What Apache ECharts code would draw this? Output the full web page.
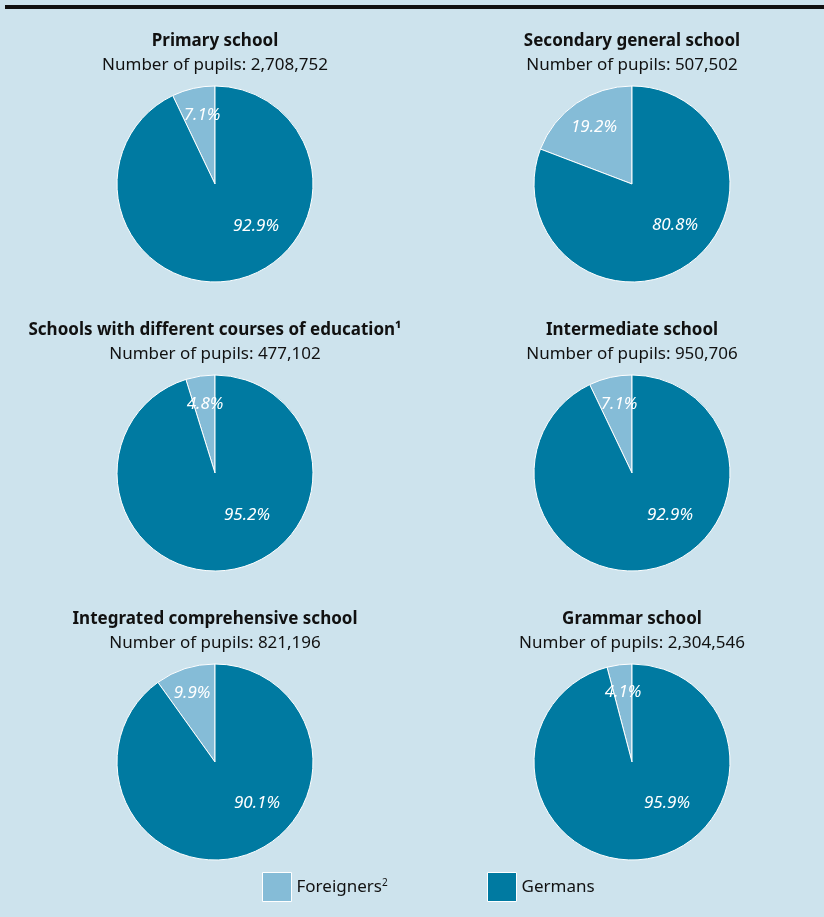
<!DOCTYPE html>
<html>
<head>
<meta charset="utf-8">
<script src="https://cdn.jsdelivr.net/npm/echarts@6/dist/echarts.min.js"></script>
<style>
  html, body { margin: 0; padding: 0; background: #cde3ed; }
  #chart { width: 824px; height: 917px; }
</style>
</head>
<body>
<div id="chart"></div>
<script>
// Pupils at general schools by nationality, share in %
const schools = [
  'Primary school',
  'Secondary general school',
  'Schools with different courses of education\u00b9',
  'Intermediate school',
  'Integrated comprehensive school',
  'Grammar school'
];
const pupils = ['2,708,752', '507,502', '477,102', '950,706', '821,196', '2,304,546'];
const foreignersShare = [7.1, 19.2, 4.8, 7.1, 9.9, 4.1];
const germansShare = [92.9, 80.8, 95.2, 92.9, 90.1, 95.9];
const groupNames = ['Foreigners', 'Germans'];

const COLORS = ['#85bcd7', '#007aa1'];
const FONT = '"Noto Sans", "Open Sans", sans-serif';

// Grid of pie centres (two columns, three rows)
const colX = [215, 632];
const rowY = [184, 473, 762];
const RADIUS = 98;

// Label offsets from each pie centre: [foreigners, germans]
const labelOffsets = [
  [[-13, -69], [41, 42]],
  [[-38, -57], [43, 41]],
  [[-10, -69], [32, 42]],
  [[-13, -69], [38, 42]],
  [[-23, -69], [42, 41]],
  [[-9, -70], [35, 41]]
];

const titles = [];
const series = [];
schools.forEach((name, i) => {
  const cx = colX[i % 2];
  const cy = rowY[Math.floor(i / 2)];
  titles.push({
    text: name,
    subtext: 'Number of pupils: ' + pupils[i],
    left: cx,
    top: cy - 154,
    padding: 0,
    textAlign: 'center',
    itemGap: 2,
    textStyle: { fontFamily: FONT, fontSize: 17, fontWeight: 'bold', color: '#111', lineHeight: 22 },
    subtextStyle: { fontFamily: FONT, fontSize: 17, color: '#111', lineHeight: 22 }
  });
  series.push({
    type: 'pie',
    name: name,
    center: [cx, cy],
    radius: [0, RADIUS],
    startAngle: 90,
    clockwise: false,
    silent: true,
    animation: false,
    itemStyle: { borderColor: '#ffffff', borderWidth: 1 },
    label: {
      show: true,
      position: 'inside',
      formatter: p => p.value.toFixed(1) + '%',
      color: '#ffffff',
      fontFamily: FONT,
      fontSize: 17,
      fontStyle: 'italic'
    },
    labelLine: { show: false },
    labelLayout: (params) => {
      const off = labelOffsets[i][params.dataIndex];
      return { x: cx + off[0], y: cy + off[1], align: 'center', verticalAlign: 'middle' };
    },
    data: [
      { name: groupNames[0], value: foreignersShare[i] },
      { name: groupNames[1], value: germansShare[i] }
    ]
  });
});

const legendBase = {
  orient: 'horizontal',
  top: 872,
  padding: 0,
  itemWidth: 29,
  itemHeight: 29,
  icon: 'rect',
  selectedMode: false,
  itemStyle: { borderColor: '#ffffff', borderWidth: 1 },
  textStyle: {
    fontFamily: FONT, fontSize: 17, color: '#111', padding: [0, 0, 0, 0],
    rich: {
      t: { fontFamily: FONT, fontSize: 17, color: '#111' },
      s: { fontFamily: FONT, fontSize: 10, color: '#111', verticalAlign: 'top', padding: [0, 0, 8, 0] }
    }
  }
};

const chart = echarts.init(document.getElementById('chart'), null, { renderer: 'canvas' });
chart.setOption({
  backgroundColor: '#cde3ed',
  color: COLORS,
  animation: false,
  title: titles,
  legend: [
    Object.assign({}, legendBase, {
      left: 262,
      data: [groupNames[0]],
      formatter: n => '{t|' + n + '}{s|2}'
    }),
    Object.assign({}, legendBase, {
      left: 487,
      data: [groupNames[1]],
      formatter: n => '{t|' + n + '}'
    })
  ],
  graphic: [{
    type: 'rect',
    shape: { x: 5, y: 5, width: 819, height: 4 },
    style: { fill: '#111111' },
    silent: true
  }],
  series: series
});
</script>
</body>
</html>
